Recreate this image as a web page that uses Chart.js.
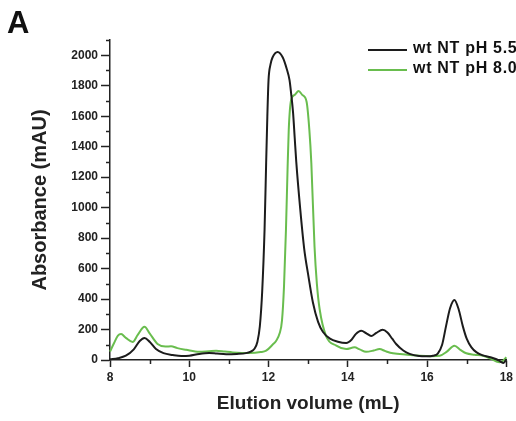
<!DOCTYPE html>
<html><head><meta charset="utf-8">
<script src="https://cdn.jsdelivr.net/npm/chart.js@4/dist/chart.umd.min.js"></script>
<style>html,body{margin:0;padding:0;background:#fff}#wrap{width:516px;height:421px;position:relative}</style>
</head><body><div id="wrap"><canvas id="c" width="516" height="421"></canvas></div>
<script>
const seriesLabels = ['wt NT pH 5.5', 'wt NT pH 8.0'];
const volBlack = [8.0,8.2,8.4,8.6,8.75,8.87,9.0,9.16,9.35,9.58,9.8,10.0,10.25,10.5,10.7,10.93,11.2,11.43,11.55,11.64,11.72,11.78,11.84,11.9,11.94,11.97,12.0,12.05,12.1,12.23,12.36,12.46,12.53,12.57,12.62,12.66,12.7,12.8,12.9,13.0,13.12,13.25,13.37,13.55,13.75,13.96,14.1,14.2,14.34,14.47,14.59,14.72,14.88,15.0,15.12,15.22,15.4,15.56,15.8,15.98,16.15,16.27,16.38,16.48,16.58,16.69,16.8,16.9,17.0,17.12,17.25,17.41,17.6,17.75,17.85,17.93,18.0];
const absBlack = [5,12,28,70,125,145,120,72,45,33,26,28,40,46,42,38,40,45,55,72,120,220,450,856,1294,1600,1837,1940,1985,2022,1985,1910,1837,1750,1620,1460,1300,990,730,560,377,250,185,140,120,112,135,170,192,175,158,178,198,180,140,105,62,40,26,24,28,42,100,224,340,394,330,224,140,83,50,30,18,5,-10,-20,5];
const volGreen = [8.0,8.1,8.2,8.28,8.4,8.57,8.7,8.87,9.0,9.2,9.4,9.54,9.7,9.92,10.25,10.5,10.68,10.9,11.1,11.52,11.8,11.94,12.1,12.19,12.28,12.34,12.39,12.44,12.48,12.51,12.57,12.66,12.76,12.85,12.96,13.03,13.08,13.16,13.22,13.29,13.45,13.71,13.96,14.17,14.3,14.46,14.65,14.8,14.95,15.14,15.5,15.81,16.1,16.32,16.5,16.69,16.85,16.99,17.2,17.41,17.6,17.75,17.83,17.92,18.0];
const absGreen = [55,110,160,170,145,118,165,218,175,105,88,90,78,67,54,58,61,55,50,46,52,61,100,125,175,260,480,856,1250,1510,1706,1740,1765,1740,1695,1510,1292,747,500,333,159,94,72,83,70,54,62,72,58,44,35,28,25,28,55,94,65,44,35,28,10,-10,-15,-5,18];
const xTicks = [8,10,12,14,16,18];
const yTicks = [0,200,400,600,800,1000,1200,1400,1600,1800,2000];
const panelLabel = 'A';
const xTitle = 'Elution volume (mL)';
const yTitle = 'Absorbance (mAU)';

const colors = ['#1c1c1c', '#69bd4e'];
const FONT = '"Liberation Sans", Arial, sans-serif';

function pts(xs, ys){ return xs.map((x,i)=>({x:x, y:ys[i]})); }

const extras = {
  id: 'extras',
  afterDraw(chart){
    const ctx = chart.ctx;
    const xs = chart.scales.x, ys = chart.scales.y;
    ctx.save();
    ctx.strokeStyle = '#222'; ctx.lineWidth = 1.5;
    for(let v=100; v<=2100; v+=200){
      const py = Math.round(ys.getPixelForValue(v))+0.5;
      ctx.beginPath(); ctx.moveTo(xs.left-4, py); ctx.lineTo(xs.left, py); ctx.stroke();
    }
    for(let v=9; v<=17; v+=2){
      const px = Math.round(xs.getPixelForValue(v))+0.5;
      ctx.beginPath(); ctx.moveTo(px, ys.bottom); ctx.lineTo(px, ys.bottom+4); ctx.stroke();
    }
    ctx.fillStyle = '#111';
    ctx.font = 'bold 31px ' + FONT;
    ctx.textBaseline = 'alphabetic'; ctx.textAlign = 'left';
    ctx.fillText(panelLabel, 7, 33);
    ctx.font = 'bold 16px ' + FONT;
    try { ctx.letterSpacing = '0.7px'; } catch(e) {}
    ctx.textBaseline = 'middle';
    const ly = [50, 70];
    chart.data.datasets.forEach((ds,i)=>{
      ctx.strokeStyle = ds.borderColor; ctx.lineWidth = 2;
      ctx.beginPath(); ctx.moveTo(368, ly[i]); ctx.lineTo(407, ly[i]); ctx.stroke();
      ctx.fillStyle = '#111';
      ctx.fillText(ds.label, 413, ly[i] - 1);
    });
    ctx.restore();
  }
};

new Chart(document.getElementById('c'), {
  type: 'line',
  data: {
    datasets: [
      {label: seriesLabels[0], data: pts(volBlack, absBlack), borderColor: colors[0], borderWidth: 2, pointRadius: 0, cubicInterpolationMode: 'monotone', fill: false, clip: false},
      {label: seriesLabels[1], data: pts(volGreen, absGreen), borderColor: colors[1], borderWidth: 2, pointRadius: 0, cubicInterpolationMode: 'monotone', fill: false, clip: false}
    ]
  },
  options: {
    responsive: false, animation: false, devicePixelRatio: 1,
    layout: {padding: {top: 40, right: 9, left: 0, bottom: 0}},
    plugins: {legend: {display: false}, tooltip: {enabled: false}},
    scales: {
      x: {
        type: 'linear', min: 8, max: 18,
        afterFit(s){ s.height = 61; },
        afterBuildTicks(s){ s.ticks = xTicks.map(v=>({value:v})); },
        grid: {display: true, drawOnChartArea: false, drawTicks: true, tickLength: 7, color: '#222', tickWidth: 1.5},
        border: {display: true, color: '#222', width: 1.5},
        ticks: {color: '#222', font: {family: FONT, size: 12, weight: 'bold'}, padding: 3, maxRotation: 0, callback: v => String(v)},
        title: {display: true, text: xTitle, color: '#222', font: {family: FONT, size: 19, weight: 'bold'}, padding: {top: 0, bottom: 6}}
      },
      y: {
        type: 'linear', min: 0, max: 2100,
        afterFit(s){ s.width = 110; },
        afterBuildTicks(s){ s.ticks = yTicks.map(v=>({value:v})); },
        grid: {display: true, drawOnChartArea: false, drawTicks: true, tickLength: 9, color: '#222', tickWidth: 1.5},
        border: {display: true, color: '#222', width: 1.5},
        ticks: {color: '#222', font: {family: FONT, size: 12, weight: 'bold'}, padding: 3, callback: v => String(v)},
        title: {display: true, text: yTitle, color: '#222', font: {family: FONT, size: 20, weight: 'bold'}, padding: {top: 28, bottom: 0}}
      }
    }
  },
  plugins: [extras]
});
</script></body></html>
